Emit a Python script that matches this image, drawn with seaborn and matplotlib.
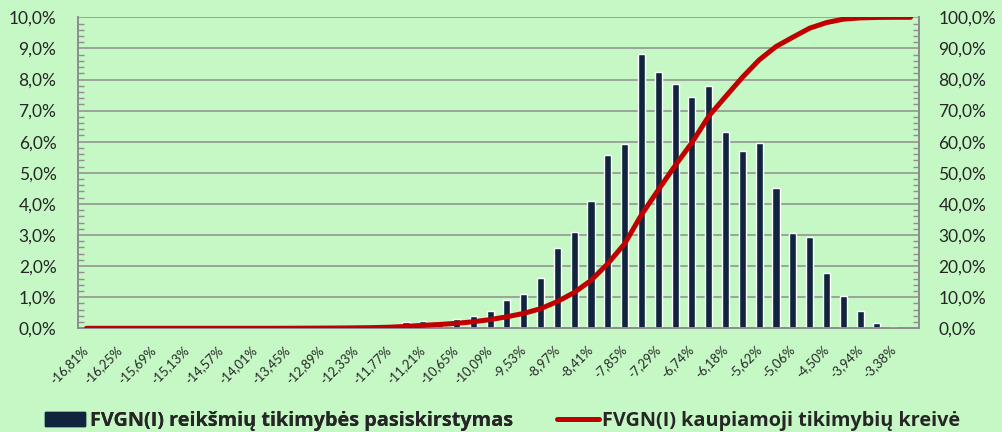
import numpy as np
import pandas as pd
import matplotlib
matplotlib.use("Agg")
import matplotlib.pyplot as plt
from matplotlib.lines import Line2D
from matplotlib.patches import Patch
from matplotlib.ticker import FuncFormatter, MultipleLocator
import seaborn as sns

# FVGN(I) value bins (category labels)
cats = ["-16,81%", "-16,53%", "-16,25%", "-15,97%", "-15,69%", "-15,41%", "-15,13%", "-14,85%",
        "-14,57%", "-14,29%", "-14,01%", "-13,73%", "-13,45%", "-13,17%", "-12,89%", "-12,61%",
        "-12,33%", "-12,05%", "-11,77%", "-11,49%", "-11,21%", "-10,93%", "-10,65%", "-10,37%",
        "-10,09%", "-9,81%", "-9,53%", "-9,25%", "-8,97%", "-8,69%", "-8,41%", "-8,13%",
        "-7,85%", "-7,57%", "-7,29%", "-7,02%", "-6,74%", "-6,46%", "-6,18%", "-5,90%",
        "-5,62%", "-5,34%", "-5,06%", "-4,78%", "-4,50%", "-4,22%", "-3,94%", "-3,66%",
        "-3,38%", "-3,10%"]

# probability of each bin, %
prob = [0, 0, 0, 0, 0, 0, 0, 0, 0, 0,
        0, 0, 0, 0.01, 0.02, 0.03, 0.04, 0.05, 0.07, 0.19,
        0.24, 0.19, 0.30, 0.39, 0.57, 0.92, 1.10, 1.61, 2.58, 3.11,
        4.10, 5.56, 5.93, 8.83, 8.25, 7.85, 7.45, 7.79, 6.30, 5.69,
        5.97, 4.52, 3.07, 2.93, 1.78, 1.04, 0.55, 0.17, 0.04, 0]

# cumulative probability curve, %
cum = [0, 0, 0, 0, 0, 0, 0, 0, 0, 0,
       0, 0, 0.02, 0.04, 0.07, 0.10, 0.15, 0.22, 0.35, 0.6,
       0.95, 1.25, 1.6, 2.1, 2.8, 3.7, 4.8, 6.3, 8.6, 11.5,
       15.4, 20.8, 27.2, 36.5, 44.5, 52.3, 59.7, 68.2, 74.5, 80.7,
       86.3, 90.6, 93.6, 96.5, 98.3, 99.4, 99.8, 99.95, 100, 100]

bar_name = "FVGN(I) reikšmių tikimybės pasiskirstymas"
line_name = "FVGN(I) kaupiamoji tikimybių kreivė"

df = pd.DataFrame({"cat": cats, "prob": prob, "cum": cum})
df["pos"] = np.arange(len(df))

bg = "#C6F8C6"
navy = "#10243E"
red = "#C00000"
grey = "#8E8E8E"

sns.set_style("white")
plt.rcParams["font.family"] = ["Lato", "DejaVu Sans"]

fig = plt.figure(figsize=(10.02, 4.32), dpi=100, facecolor=bg)
ax = fig.add_axes([78 / 1002, 1 - 328.3 / 432, (919 - 78) / 1002, (328.3 - 17.3) / 432])
ax.set_facecolor(bg)

sns.barplot(data=df, x="pos", y="prob", color=navy, saturation=1, width=0.42, ax=ax, zorder=3)

ax2 = ax.twinx()
sns.lineplot(data=df, x="pos", y="cum", color=red, lw=3.6, ax=ax2, zorder=4)

n = len(cats)
ax.set_xlim(-0.5, n - 0.5)
ax.set_ylim(0, 10)
ax2.set_ylim(0, 100)

pct = lambda v, p: f"{v:.1f}".replace(".", ",") + "%"
ax.yaxis.set_major_locator(MultipleLocator(1))
ax.yaxis.set_minor_locator(MultipleLocator(0.2))
ax.yaxis.set_major_formatter(FuncFormatter(pct))
ax2.yaxis.set_major_locator(MultipleLocator(10))
ax2.yaxis.set_minor_locator(MultipleLocator(2))
ax2.yaxis.set_major_formatter(FuncFormatter(pct))

# ticks between categories, labels on every other category
ax.set_xticks(np.arange(n + 1) - 0.5, [""] * (n + 1))
ax.set_xticks(df["pos"][::2].values, cats[::2], minor=True,
              rotation=45, ha="right", va="center", rotation_mode="anchor", fontsize=9.3)
ax.tick_params(axis="x", which="major", direction="in", length=3, width=1, color=grey)
ax.tick_params(axis="x", which="minor", length=0, pad=14)

ax.tick_params(axis="y", which="both", direction="in", color=grey, width=1, labelsize=12.5, pad=15.5)
ax.tick_params(axis="y", which="major", length=0)
ax.tick_params(axis="y", which="minor", length=4)
ax2.tick_params(axis="y", which="both", direction="in", color=grey, width=1, labelsize=12.5, pad=14)
ax2.tick_params(axis="y", which="major", length=0)
ax2.tick_params(axis="y", which="minor", length=4)

ax.grid(axis="y", which="major", color=grey, lw=1.1, zorder=0)
ax.set_axisbelow(True)
ax.set_xlabel("")
ax.set_ylabel("")
ax2.set_ylabel("")
ax2.set_xlabel("")

for a in (ax, ax2):
    for s in ("left", "right", "bottom"):
        a.spines[s].set_visible(True)
        a.spines[s].set_color(grey)
        a.spines[s].set_linewidth(1.3)
    a.spines["top"].set_visible(False)

# two legend entries, placed like the original's bottom legend
leg_font = {"family": ["Open Sans", "DejaVu Sans"], "weight": "bold", "size": 14.3}
leg1 = fig.legend(handles=[Patch(facecolor=navy, edgecolor=navy, label=bar_name)],
                  loc="center left", bbox_to_anchor=(45 / 1002, 1 - 421 / 432), frameon=False,
                  prop=leg_font, handlelength=2.0, handletextpad=0.25, borderaxespad=0, borderpad=0)
fig.add_artist(leg1)
fig.legend(handles=[Line2D([], [], color=red, lw=3.6, label=line_name)],
           loc="center left", bbox_to_anchor=(557 / 1002, 1 - 421 / 432), frameon=False,
           prop=leg_font, handlelength=2.1, handletextpad=0.15, borderaxespad=0, borderpad=0)

fig.savefig("out.png", dpi=100, facecolor=bg)
